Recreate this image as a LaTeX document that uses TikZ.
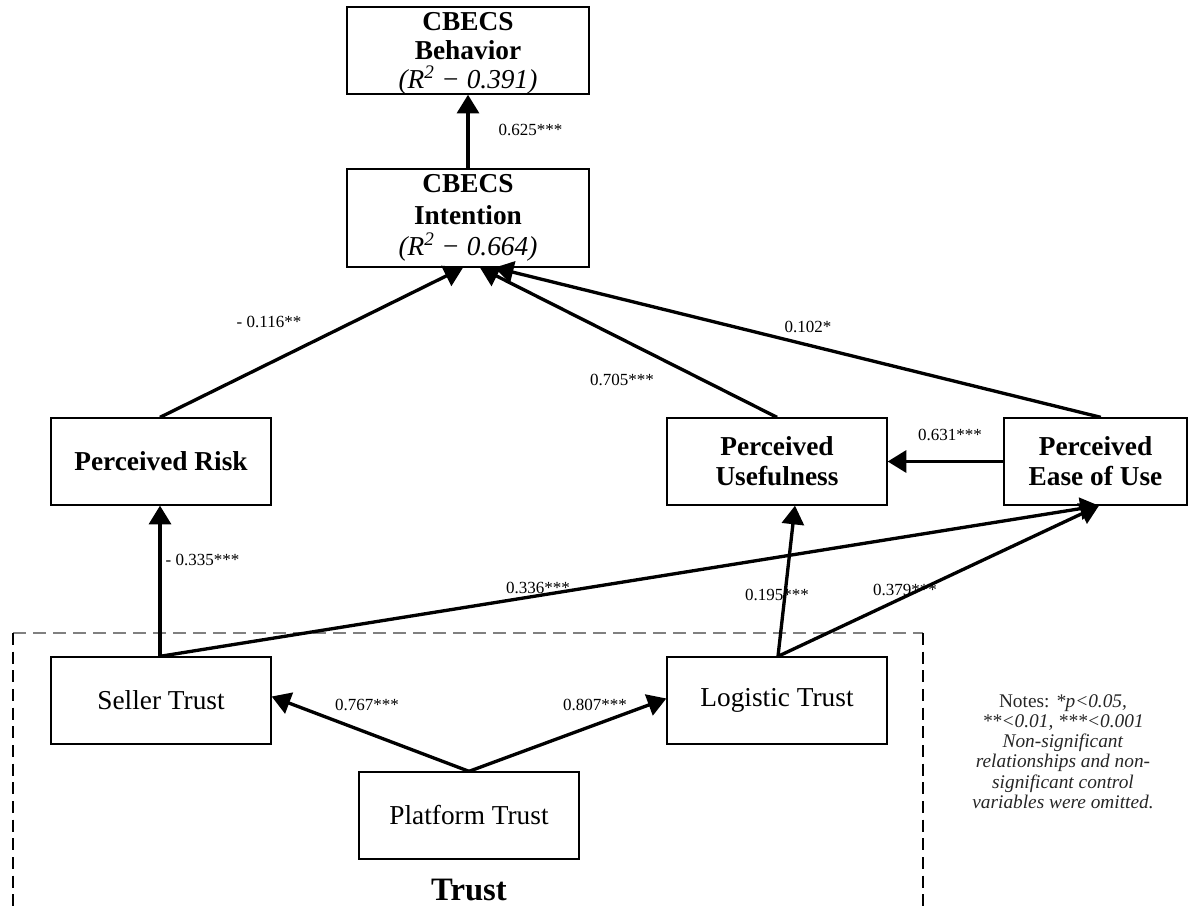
\documentclass[tikz,border=0pt]{standalone}
\usepackage{fontspec}
\setmainfont{Liberation Serif}
\usetikzlibrary{arrows.meta}
\begin{document}
\begin{tikzpicture}[x=0.75pt,y=-0.75pt,
  box/.style={draw, line width=1pt, inner sep=0pt, align=center, minimum width=165pt, minimum height=65.25pt},
  bbox/.style={box, font=\fontsize{20.5}{22.5}\selectfont\bfseries},
  rbox/.style={box, font=\fontsize{20.5}{22}\selectfont},
  conn/.style={line width=2.5pt, -{Triangle[length=14pt,width=16.5pt]}},
  lbl/.style={font=\fontsize{12.75}{14}\selectfont, inner sep=1pt},
  ]
\useasboundingbox (0,0) rectangle (1189,909);
\fill[white] (0,0) rectangle (1189,909);
% boxes
\node[bbox, minimum width=181.5pt, font=\fontsize{20.5}{21.5}\selectfont\bfseries] (beh) at (468,50.5) {\rule{0pt}{18pt}CBECS\\Behavior\\{\mdseries\itshape (R\textsuperscript{2} − 0.391)}};
\node[bbox, minimum width=181.5pt, minimum height=73.5pt, font=\fontsize{20.5}{23.5}\selectfont\bfseries] (int) at (468,218) {CBECS\\Intention\\{\mdseries\itshape (R\textsuperscript{2} − 0.664)}};
\node[bbox] (risk) at (161,461.5) {Perceived Risk};
\node[bbox] (use) at (777,461.5) {Perceived\\Usefulness};
\node[bbox, minimum width=137.25pt] (ease) at (1095.5,461.5) {Perceived\\Ease of Use};
\node[rbox] (seller) at (161,700.5) {Seller Trust};
\node[rbox] (logi) at (777,700.5) {Logistic Trust};
\node[rbox] (plat) at (469,815.5) {Platform Trust};
% trust group
\coordinate (gbl) at (13,909);
\coordinate (gtl) at (13,633);
\coordinate (gtr) at (923,633);
\coordinate (gbr) at (923,909);
\draw[gray, line width=1.5pt, dash pattern=on 10pt off 5pt] (gtl) -- (gtr);
\draw[black, line width=0.8pt, dash pattern=on 9pt off 5pt] (gtl) -- (gbl);
\draw[black, line width=0.8pt, dash pattern=on 9pt off 5pt] (gtr) -- (gbr);
\node[font=\fontsize{24.5}{26}\selectfont\bfseries] (trust) at (469,890) {Trust};
% connectors
\draw[conn] (int.north) -- (beh.south);
\draw[conn] ([xshift=-0.75pt]risk.north) -- ([xshift=-3.75pt]int.south);
\draw[conn] (use.north) -- ([xshift=9pt]int.south);
\draw[conn] ([xshift=4pt]ease.north) -- ([xshift=20pt]int.south);
\draw[conn] (ease.west) -- (use.east);
\draw[conn] ([xshift=-0.75pt]seller.north) -- ([xshift=-0.75pt]risk.south);
\draw[conn] ([xshift=-0.75pt]seller.north) -- ([xshift=2.6pt]ease.south);
\draw[conn] ([xshift=0.75pt]logi.north) -- ([xshift=13.5pt]use.south);
\draw[conn] ([xshift=0.75pt]logi.north) -- ([xshift=2.6pt]ease.south);
\draw[conn] (plat.north) -- ([yshift=3pt]seller.east);
\draw[conn] (plat.north) -- ([yshift=1.5pt]logi.west);
% labels
\node[lbl, anchor=west] (l625) at (497,130) {0.625***};
\node[lbl] (l116) at (269,322) {- 0.116**};
\node[lbl] (l705) at (622,380) {0.705***};
\node[lbl] (l102) at (808,327) {0.102*};
\node[lbl] (l631) at (950,435) {0.631***};
\node[lbl, anchor=west] (l335) at (164,560) {- 0.335***};
\node[lbl] (l336) at (538,588) {0.336***};
\node[lbl] (l195) at (777,595) {0.195***};
\node[lbl] (l379) at (905,590) {0.379***};
\node[lbl] (l767) at (367,705) {0.767***};
\node[lbl] (l807) at (595,705) {0.807***};
% notes
\node[font=\fontsize{14.5}{15.2}\selectfont, align=center, inner sep=0pt, text=black!85] (notes) at (1063,751.5)
 {Notes: \textit{*p<0.05,}\\ \textit{**<0.01, ***<0.001}\\ \textit{Non-significant}\\ \textit{relationships and non-}\\ \textit{significant control}\\ \textit{variables were omitted.}};
\end{tikzpicture}
\end{document}
